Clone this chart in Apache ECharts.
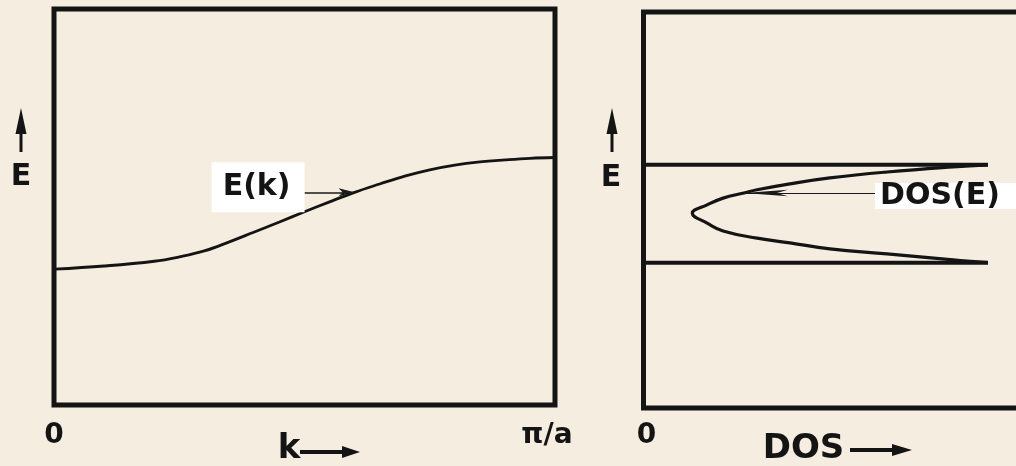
<!DOCTYPE html>
<html>
<head>
<meta charset="utf-8">
<script src="https://cdn.jsdelivr.net/npm/echarts@6/dist/echarts.min.js"></script>
<style>
  html, body { margin: 0; padding: 0; background: #f4ede0; }
  #main { width: 1016px; height: 466px; }
</style>
</head>
<body>
<div id="main"></div>
<script>
// Tight-binding band E(k) across the zone, k in units of pi/a
const kValues = [0, 0.1, 0.2, 0.25, 0.3, 0.35, 0.4, 0.45, 0.5, 0.55, 0.6, 0.65, 0.7, 0.75, 0.8, 0.85, 0.9, 0.95, 1.0];
const energyValues = [3.43, 3.51, 3.63, 3.74, 3.89, 4.12, 4.37, 4.62, 4.88, 5.13, 5.37, 5.58, 5.78, 5.94, 6.06, 6.14, 6.19, 6.23, 6.25];

const dosValues = [8.61, 7.74, 6.09, 4.66, 3.66, 2.84, 2.51, 1.99, 1.59, 1.22, 1.59, 1.99, 2.84, 3.66, 4.66, 6.09, 7.74, 8.61];
const dosEnergy = [6.14, 6.09, 5.96, 5.81, 5.66, 5.51, 5.43, 5.30, 5.13, 4.92, 4.67, 4.47, 4.29, 4.17, 4.02, 3.89, 3.74, 3.67];

// Band edges drawn across the DOS panel
const bandEdges = [6.14, 3.67];
const bandEdgeReach = 8.61;

// Tick labels
const kTickLabels = ['0', 'π/a'];
const dosTickLabels = ['0'];

// Points the callout arrows point at
const ekCalloutIndex = 10;
const dosCalloutIndex = 6;

const FONT = '"DejaVu Sans", "Liberation Sans", sans-serif';
const INK = '#141414';

const chart = echarts.init(document.getElementById('main'), null, { renderer: 'canvas' });

const hiddenAxisParts = {
  axisLine: { show: false },
  axisTick: { show: false },
  splitLine: { show: false }
};

const option = {
  backgroundColor: 'transparent',
  animation: false,
  grid: [
    { left: 54, top: 9, width: 501, height: 396, show: true, borderColor: INK, borderWidth: 5, backgroundColor: 'transparent', containLabel: false, outerBoundsMode: 'none' },
    { left: 643.5, top: 12, width: 400, height: 396, show: true, borderColor: INK, borderWidth: 5, backgroundColor: 'transparent', containLabel: false, outerBoundsMode: 'none' }
  ],
  xAxis: [
    Object.assign({
      gridIndex: 0, type: 'value', min: 0, max: 1, interval: 1,
      axisLabel: {
        margin: 16,
        formatter: v => (v === 0 ? '{z|' + kTickLabels[0] + '}' : '{p|' + kTickLabels[1] + '}'),
        rich: {
          z: { fontFamily: FONT, fontWeight: 'bold', fontSize: 28, lineHeight: 30, color: INK },
          p: { fontFamily: FONT, fontWeight: 'bold', fontSize: 28, lineHeight: 30, color: INK, padding: [0, 16, 0, 0] }
        }
      },
      name: 'k', nameLocation: 'middle', nameGap: 27, nameMoveOverlap: false,
      nameTextStyle: { fontFamily: FONT, fontWeight: 'bold', fontSize: 34, lineHeight: 34, color: INK, padding: [0, 31, 0, 0] }
    }, hiddenAxisParts),
    Object.assign({
      gridIndex: 1, type: 'value', min: 0, max: 10, interval: 10,
      axisLabel: {
        margin: 13,
        formatter: v => (v === 0 ? dosTickLabels[0] : ''),
        fontFamily: FONT, fontWeight: 'bold', fontSize: 28, lineHeight: 30, color: INK, padding: [0, 0, 0, 6]
      },
      name: 'DOS', nameLocation: 'middle', nameGap: 24, nameMoveOverlap: false,
      nameTextStyle: { fontFamily: FONT, fontWeight: 'bold', fontSize: 34, lineHeight: 34, color: INK, padding: [0, 80, 0, 0] }
    }, hiddenAxisParts)
  ],
  yAxis: [
    Object.assign({ gridIndex: 0, type: 'value', min: 0, max: 10, axisLabel: { show: false } }, hiddenAxisParts),
    Object.assign({ gridIndex: 1, type: 'value', min: 0, max: 10, axisLabel: { show: false } }, hiddenAxisParts)
  ],
  series: [
    {
      name: 'E(k)', type: 'line', xAxisIndex: 0, yAxisIndex: 0,
      data: kValues.map((k, i) => [k, energyValues[i]]),
      smooth: 0.4, symbol: 'none',
      lineStyle: { color: INK, width: 2.8 },
      markLine: {
        silent: true, animation: false,
        symbol: ['none', 'arrow'],
        lineStyle: { color: '#1a1a1a', width: 1.6, type: 'solid' },
        label: {
          show: true, position: 'start', distance: 0, formatter: 'E(k)', offset: [0, -5],
          fontFamily: FONT, fontWeight: 'bold', fontSize: 30, lineHeight: 30, color: INK,
          backgroundColor: '#ffffff', padding: [8, 14, 12, 11]
        },
        data: [[
          { coord: [0.5, energyValues[ekCalloutIndex]], symbol: 'none' },
          { coord: [kValues[ekCalloutIndex], energyValues[ekCalloutIndex]], symbol: 'arrow', symbolSize: [6, 16] }
        ]]
      }
    },
    {
      name: 'DOS(E)', type: 'line', xAxisIndex: 1, yAxisIndex: 1,
      data: dosValues.map((d, i) => [d, dosEnergy[i]]),
      smooth: 0.45, symbol: 'none',
      lineStyle: { color: INK, width: 3.2, join: 'round' },
      markLine: {
        silent: true, animation: false,
        symbol: ['none', 'arrow'],
        lineStyle: { color: '#1a1a1a', width: 1.2, type: 'solid' },
        label: {
          show: true, position: 'start', distance: 0, formatter: 'DOS(E)', offset: [0, 3],
          fontFamily: FONT, fontWeight: 'bold', fontSize: 30, lineHeight: 26, color: INK,
          backgroundColor: '#ffffff', padding: [0, 20, 0, 5]
        },
        data: [[
          { coord: [5.79, dosEnergy[dosCalloutIndex]], symbol: 'none' },
          { coord: [dosValues[dosCalloutIndex], dosEnergy[dosCalloutIndex]], symbol: 'arrow', symbolSize: [5, 44] }
        ]]
      }
    },
    {
      name: 'upper band edge', type: 'line', xAxisIndex: 1, yAxisIndex: 1,
      data: [[0, bandEdges[0]], [bandEdgeReach, bandEdges[0]]],
      symbol: 'none', lineStyle: { color: INK, width: 4 }
    },
    {
      name: 'lower band edge', type: 'line', xAxisIndex: 1, yAxisIndex: 1,
      data: [[0, bandEdges[1]], [bandEdgeReach, bandEdges[1]]],
      symbol: 'none', lineStyle: { color: INK, width: 4 }
    }
  ],
  graphic: [
    // "E" with upward arrow beside each energy axis
    { type: 'polygon', shape: { points: [[21, 108], [15.5, 134], [26.5, 134]] }, style: { fill: INK } },
    { type: 'line', shape: { x1: 21, y1: 130, x2: 21, y2: 152 }, style: { stroke: INK, lineWidth: 3 } },
    { type: 'text', x: 21, y: 177, style: { text: 'E', font: 'bold 30px ' + FONT, fill: INK, align: 'center', verticalAlign: 'middle' } },
    { type: 'polygon', shape: { points: [[612, 108], [606.5, 134], [617.5, 134]] }, style: { fill: INK } },
    { type: 'line', shape: { x1: 612, y1: 130, x2: 612, y2: 152 }, style: { stroke: INK, lineWidth: 3 } },
    { type: 'text', x: 611, y: 178, style: { text: 'E', font: 'bold 30px ' + FONT, fill: INK, align: 'center', verticalAlign: 'middle' } },
    // rightward arrows after the k and DOS axis names
    { type: 'line', shape: { x1: 300, y1: 452, x2: 346, y2: 452 }, style: { stroke: INK, lineWidth: 4 } },
    { type: 'polygon', shape: { points: [[342, 446], [360, 452], [342, 458]] }, style: { fill: INK } },
    { type: 'line', shape: { x1: 850, y1: 450, x2: 896, y2: 450 }, style: { stroke: INK, lineWidth: 4 } },
    { type: 'polygon', shape: { points: [[892, 444], [912, 450], [892, 456]] }, style: { fill: INK } }
  ]
};

chart.setOption(option);
</script>
</body>
</html>
